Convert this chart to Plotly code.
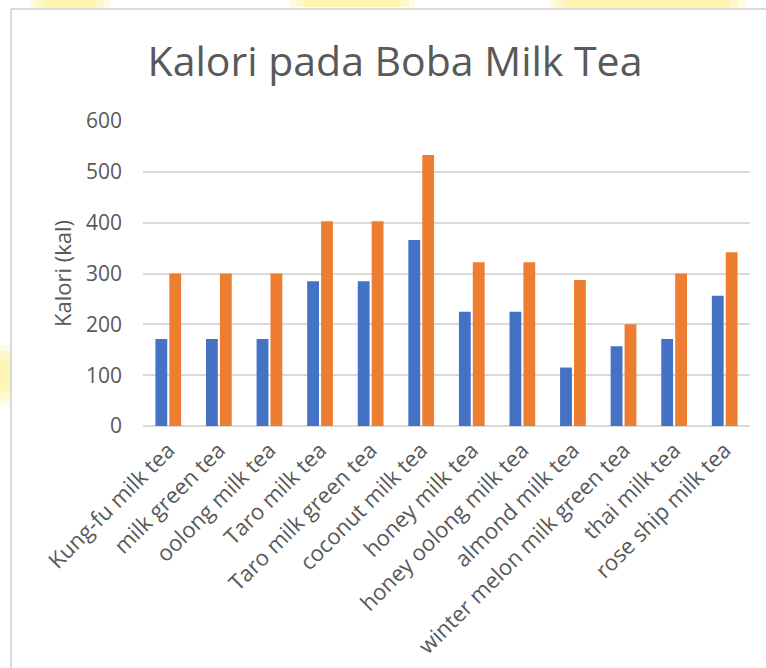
import plotly.graph_objects as go

# Calories per drink (two serving variants)
categories = [
    "Kung-fu milk tea", "milk green tea", "oolong milk tea", "Taro milk tea",
    "Taro milk green tea", "coconut milk tea", "honey milk tea",
    "honey oolong milk tea", "almond milk tea", "winter melon milk green tea",
    "thai milk tea", "rose ship milk tea",
]
series_a = [171, 171, 171, 285, 285, 366, 225, 225, 115, 157, 171, 256]
series_b = [300, 300, 300, 403, 403, 533, 322, 322, 287, 200, 300, 342]
y_ticks = [0, 100, 200, 300, 400, 500, 600]

W, H = 766, 668
L, R, T, B = 143, 16, 121, 242
pw = W - L - R
ph = H - T - B

TEXT = "#595959"
GRID = "#D9D9D9"
FONT = "Open Sans"

fig = go.Figure()
fig.add_trace(go.Bar(x=categories, y=series_a, marker_color="#4472C4",
                     marker_line_width=0, name="A"))
fig.add_trace(go.Bar(x=categories, y=series_b, marker_color="#ED7D31",
                     marker_line_width=0, name="B"))


def px_x(v):
    return (v - L) / pw


def px_y(v):
    return (H - B - v) / ph


shapes = []
# soft yellow backdrop peeking around the chart frame (layered for a fade)
blobs = [(30, 110, 0, 8), (290, 415, 0, 7), (550, 745, 0, 9), (0, 10, 345, 405)]
for x0, x1, y0, y1 in blobs:
    for k, a in [(0, 0.18), (6, 0.22), (14, 0.25)]:
        if x1 - x0 > y1 - y0:
            xs0, xs1, ys0, ys1 = x0 + k, x1 - k, y0, y1
        else:
            xs0, xs1, ys0, ys1 = x0, x1, y0 + k, y1 - k
        shapes.append(dict(type="rect", xref="paper", yref="paper",
                           x0=px_x(xs0), x1=px_x(xs1), y0=px_y(ys0), y1=px_y(ys1),
                           fillcolor=f"rgba(255,236,110,{a})", line_width=0,
                           layer="below"))
# chart frame
shapes.append(dict(type="line", xref="paper", yref="paper",
                   x0=px_x(11), x1=px_x(766), y0=px_y(9), y1=px_y(9),
                   line=dict(color=GRID, width=2)))
shapes.append(dict(type="line", xref="paper", yref="paper",
                   x0=px_x(11), x1=px_x(11), y0=px_y(9), y1=px_y(668),
                   line=dict(color=GRID, width=2)))

fig.update_layout(
    width=W, height=H,
    margin=dict(l=L, r=R, t=T, b=B, autoexpand=False),
    paper_bgcolor="white", plot_bgcolor="white",
    showlegend=False,
    barmode="group", bargap=0.45, bargroupgap=0.15,
    font=dict(family=FONT, color=TEXT),
    title=dict(text="Kalori pada Boba Milk Tea", x=395 / W, xanchor="center",
               y=1 - 62 / H, yanchor="middle",
               font=dict(family=FONT, size=41, color=TEXT)),
    shapes=shapes,
)
fig.update_xaxes(tickangle=-45, tickfont=dict(size=22, color=TEXT),
                 showline=False, showgrid=False, ticks="",
                 ticklabelstandoff=6, automargin=False)
fig.update_yaxes(range=[0, 600], tickvals=y_ticks, showgrid=True,
                 gridcolor=GRID, gridwidth=1.5, zeroline=True,
                 zerolinecolor=GRID, zerolinewidth=1.5,
                 tickfont=dict(size=21, color=TEXT), ticks="",
                 ticklabelstandoff=20, automargin=False,
                 title=dict(text="Kalori (kal)", standoff=8,
                            font=dict(size=22, color=TEXT)))

fig.write_html("out.html")
